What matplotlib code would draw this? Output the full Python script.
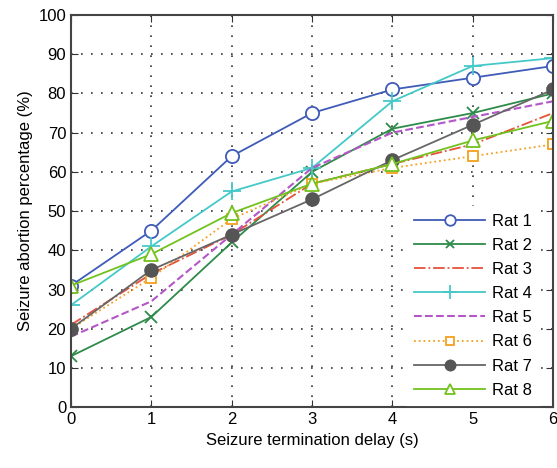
import matplotlib.pyplot as plt

plt.rcParams['font.family'] = ['Liberation Sans', 'DejaVu Sans']

delay = [0, 1, 2, 3, 4, 5, 6]
rat1 = [31, 45, 64, 75, 81, 84, 87]
rat2 = [13, 23, 42, 60, 71, 75, 80]
rat3 = [21, 34, 44, 57, 62, 67, 75]
rat4 = [26, 41, 55, 61, 78, 87, 89]
rat5 = [18, 27, 44, 61, 70, 74, 78]
rat6 = [20, 33, 48, 57, 61, 64, 67]
rat7 = [20, 35, 44, 53, 63, 72, 81]
rat8 = [31, 39, 49.5, 57, 62, 68, 73]

fig = plt.figure(figsize=(5.57, 4.68), dpi=100)
ax = fig.add_axes([0.1275, 0.130, 0.8655, 0.838])

ax.plot(delay, rat1, color='#3f5bb8', lw=1.3, marker='o', ms=9.5, mfc='white', mew=1.3, label='Rat 1')
ax.plot(delay, rat2, color='#2e8b4a', lw=1.3, marker='x', ms=8, mew=1.3, label='Rat 2')
ax.plot(delay, rat3, color='#e8503a', lw=1.3, ls='-.', label='Rat 3')
ax.plot(delay, rat4, color='#45c8c8', lw=1.3, marker='+', ms=13, mew=1.3, label='Rat 4')
ax.plot(delay, rat5, color='#b455c8', lw=1.5, ls='--', label='Rat 5')
ax.plot(delay, rat6, color='#f5a020', lw=1.3, ls=':', marker='s', ms=7.5, mfc='white', mew=1.3, label='Rat 6')
ax.plot(delay, rat7, color='#666666', lw=1.3, marker='o', ms=9.5, mfc='#555555', mec='#555555', label='Rat 7')
ax.plot(delay, rat8, color='#72c21e', lw=1.3, marker='^', ms=9.5, mfc='white', mew=1.3, label='Rat 8')

ax.set_xlim(0, 6)
ax.set_ylim(0, 100)
ax.set_xticks(range(0, 7))
ax.set_yticks(range(0, 101, 10))
ax.grid(True, color='#333333', ls=(0, (1, 5)), lw=1.2)
ax.tick_params(direction='in', top=True, right=True, labelsize=12, length=5, color='#333333')
for s in ax.spines.values():
    s.set_color('#444444')
    s.set_linewidth(1.5)

ax.set_xlabel('Seizure termination delay (s)', fontsize=12)
ax.set_ylabel('Seizure abortion percentage (%)', fontsize=12)

leg = ax.legend(loc='lower right', bbox_to_anchor=(0.972, 0.005), fontsize=12, handlelength=4.3,
                frameon=True, fancybox=False, borderaxespad=0, borderpad=0.45,
                labelspacing=0.55, handletextpad=0.4, markerscale=0.8, framealpha=1)
leg.get_frame().set_edgecolor('white')
leg.get_frame().set_linewidth(0.8)

fig.savefig('out.png', dpi=100)
